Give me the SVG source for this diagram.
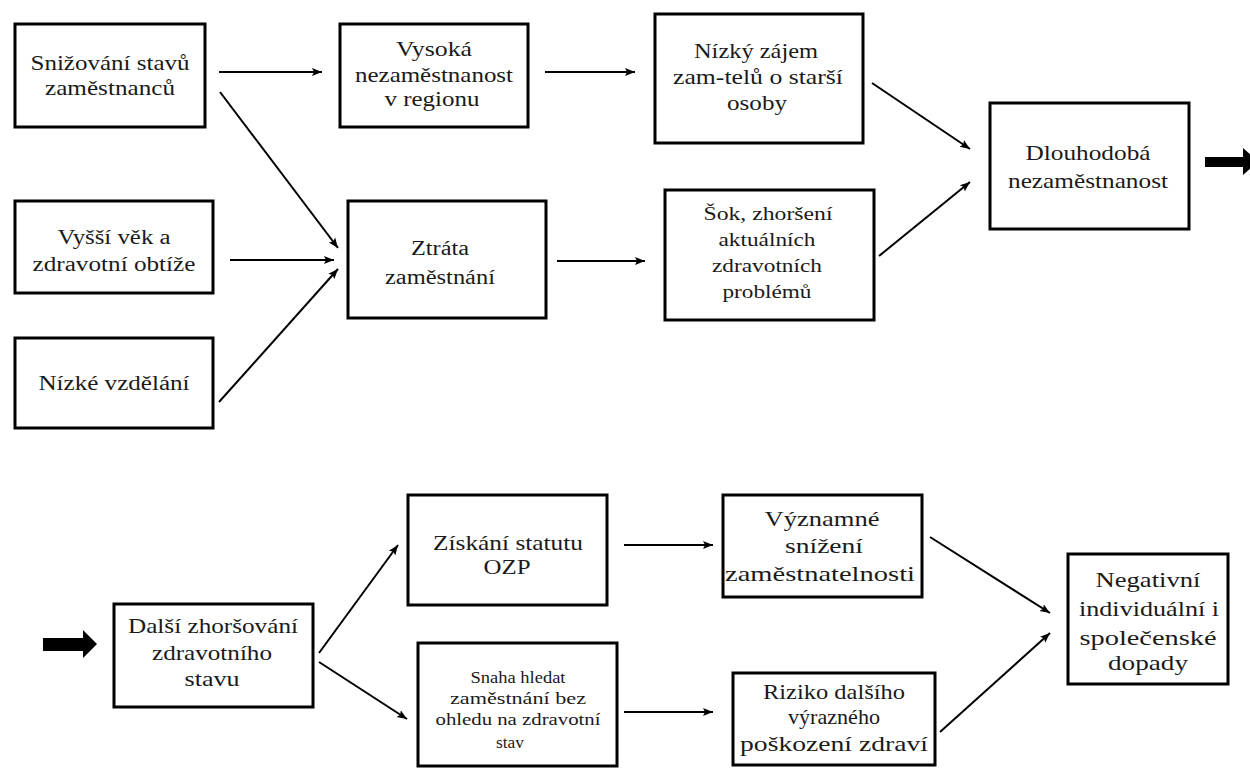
<svg xmlns="http://www.w3.org/2000/svg" width="1250" height="776" viewBox="0 0 1250 776">
  <style>
    .box { fill: #ffffff; stroke: #000000; stroke-width: 3; }
    .lbl { font-family: "Liberation Serif", "Times New Roman", serif; fill: #1a1a1a; text-anchor: middle; }
    .t21 { font-size: 21px; }
    .t20 { font-size: 20px; }
    .t18 { font-size: 18px; }
    .t16 { font-size: 16px; }
    .conn { stroke: #000000; stroke-width: 2; fill: none; marker-end: url(#head); }
    .big { fill: #000000; }
  </style>
  <defs>
    <marker id="head" markerUnits="userSpaceOnUse" markerWidth="12" markerHeight="10" refX="10" refY="5" orient="auto">
      <path d="M0,1 L10,5 L0,9 L2,5 Z" fill="#000000"/>
    </marker>
  </defs>

  <rect width="1250" height="776" fill="#ffffff"/>

  <!-- connectors -->
  <g id="connectors">
    <line class="conn" x1="219" y1="72" x2="322" y2="72"/>
    <line class="conn" x1="220" y1="92" x2="338" y2="248"/>
    <line class="conn" x1="545" y1="72" x2="635" y2="72"/>
    <line class="conn" x1="872" y1="83" x2="970" y2="149"/>
    <line class="conn" x1="879" y1="256" x2="970" y2="182"/>
    <line class="conn" x1="230" y1="260" x2="334" y2="260"/>
    <line class="conn" x1="219" y1="402" x2="338" y2="269"/>
    <line class="conn" x1="557" y1="261" x2="645" y2="261"/>
    <line class="conn" x1="319" y1="653" x2="398" y2="545"/>
    <line class="conn" x1="319" y1="662" x2="407" y2="719"/>
    <line class="conn" x1="624" y1="545" x2="713" y2="545"/>
    <line class="conn" x1="624" y1="712" x2="713" y2="712"/>
    <line class="conn" x1="930" y1="537" x2="1050" y2="613"/>
    <line class="conn" x1="940" y1="732" x2="1050" y2="633"/>
    <!-- block arrows linking the two rows -->
    <path class="big" d="M1205,157 L1243,157 L1243,148 L1258,161.5 L1243,175 L1243,167 L1205,167 Z"/>
    <path class="big" d="M43,638 L83,638 L83,630 L97,644 L83,658 L83,651 L43,651 Z"/>
  </g>

  <!-- upper chain -->
  <g id="snizovani">
    <rect class="box" x="15" y="24" width="190" height="103"/>
    <text class="lbl t21" x="110" y="70" textLength="159" lengthAdjust="spacingAndGlyphs">Snižování stavů</text>
    <text class="lbl t21" x="110" y="95" textLength="130" lengthAdjust="spacingAndGlyphs">zaměstnanců</text>
  </g>
  <g id="vysoka">
    <rect class="box" x="340" y="24" width="188" height="103"/>
    <text class="lbl t21" x="434" y="56" textLength="76" lengthAdjust="spacingAndGlyphs">Vysoká</text>
    <text class="lbl t21" x="434" y="82" textLength="158" lengthAdjust="spacingAndGlyphs">nezaměstnanost</text>
    <text class="lbl t21" x="432" y="106" textLength="95" lengthAdjust="spacingAndGlyphs">v regionu</text>
  </g>
  <g id="nizky-zajem">
    <rect class="box" x="655" y="14" width="208" height="129"/>
    <text class="lbl t21" x="756" y="58" textLength="124" lengthAdjust="spacingAndGlyphs">Nízký zájem</text>
    <text class="lbl t21" x="758" y="84" textLength="170" lengthAdjust="spacingAndGlyphs">zam-telů o starší</text>
    <text class="lbl t21" x="757" y="110" textLength="60" lengthAdjust="spacingAndGlyphs">osoby</text>
  </g>
  <g id="dlouhodoba">
    <rect class="box" x="990" y="103" width="199" height="126"/>
    <text class="lbl t21" x="1088" y="160" textLength="125" lengthAdjust="spacingAndGlyphs">Dlouhodobá</text>
    <text class="lbl t21" x="1088" y="188" textLength="160" lengthAdjust="spacingAndGlyphs">nezaměstnanost</text>
  </g>
  <g id="vyssi-vek">
    <rect class="box" x="15" y="201" width="198" height="92"/>
    <text class="lbl t20" x="114" y="244" textLength="113" lengthAdjust="spacingAndGlyphs">Vyšší věk a</text>
    <text class="lbl t20" x="114" y="271" textLength="163" lengthAdjust="spacingAndGlyphs">zdravotní obtíže</text>
  </g>
  <g id="nizke-vzdelani">
    <rect class="box" x="15" y="338" width="198" height="90"/>
    <text class="lbl t20" x="114" y="390" textLength="151" lengthAdjust="spacingAndGlyphs">Nízké vzdělání</text>
  </g>
  <g id="ztrata">
    <rect class="box" x="348" y="201" width="198" height="117"/>
    <text class="lbl t20" x="440" y="255" textLength="58" lengthAdjust="spacingAndGlyphs">Ztráta</text>
    <text class="lbl t20" x="440" y="284" textLength="110" lengthAdjust="spacingAndGlyphs">zaměstnání</text>
  </g>
  <g id="sok">
    <rect class="box" x="665" y="190" width="209" height="130"/>
    <text class="lbl t18" x="768" y="220" textLength="129" lengthAdjust="spacingAndGlyphs">Šok, zhoršení</text>
    <text class="lbl t18" x="767" y="246" textLength="97" lengthAdjust="spacingAndGlyphs">aktuálních</text>
    <text class="lbl t18" x="767" y="272" textLength="110" lengthAdjust="spacingAndGlyphs">zdravotních</text>
    <text class="lbl t18" x="767" y="298" textLength="89" lengthAdjust="spacingAndGlyphs">problémů</text>
  </g>

  <!-- lower chain -->
  <g id="dalsi-zhorsovani">
    <rect class="box" x="114" y="604" width="199" height="103"/>
    <text class="lbl t21" x="213" y="633" textLength="170" lengthAdjust="spacingAndGlyphs">Další zhoršování</text>
    <text class="lbl t21" x="212" y="660" textLength="120" lengthAdjust="spacingAndGlyphs">zdravotního</text>
    <text class="lbl t21" x="212" y="686" textLength="55" lengthAdjust="spacingAndGlyphs">stavu</text>
  </g>
  <g id="ziskani-ozp">
    <rect class="box" x="408" y="495" width="199" height="110"/>
    <text class="lbl t21" x="508" y="550" textLength="150" lengthAdjust="spacingAndGlyphs">Získání statutu</text>
    <text class="lbl t21" x="507" y="574" textLength="47" lengthAdjust="spacingAndGlyphs">OZP</text>
  </g>
  <g id="snaha-hledat">
    <rect class="box" x="418" y="643" width="199" height="123"/>
    <text class="lbl t16" x="518" y="683" textLength="95" lengthAdjust="spacingAndGlyphs">Snaha hledat</text>
    <text class="lbl t16" x="518" y="704" textLength="136" lengthAdjust="spacingAndGlyphs">zaměstnání bez</text>
    <text class="lbl t16" x="518" y="725" textLength="165" lengthAdjust="spacingAndGlyphs">ohledu na zdravotní</text>
    <text class="lbl t16" x="510" y="748" textLength="28" lengthAdjust="spacingAndGlyphs">stav</text>
  </g>
  <g id="vyznamne-snizeni">
    <rect class="box" x="723" y="495" width="199" height="102"/>
    <text class="lbl t21" x="822" y="526" textLength="115" lengthAdjust="spacingAndGlyphs">Významné</text>
    <text class="lbl t21" x="824" y="553" textLength="78" lengthAdjust="spacingAndGlyphs">snížení</text>
    <text class="lbl t21" x="820" y="581" textLength="190" lengthAdjust="spacingAndGlyphs">zaměstnatelnosti</text>
  </g>
  <g id="riziko">
    <rect class="box" x="733" y="673" width="202" height="92"/>
    <text class="lbl t21" x="834" y="699" textLength="142" lengthAdjust="spacingAndGlyphs">Riziko dalšího</text>
    <text class="lbl t21" x="834" y="724" textLength="92" lengthAdjust="spacingAndGlyphs">výrazného</text>
    <text class="lbl t21" x="834" y="751" textLength="188" lengthAdjust="spacingAndGlyphs">poškození zdraví</text>
  </g>
  <g id="negativni-dopady">
    <rect class="box" x="1068" y="554" width="160" height="130"/>
    <text class="lbl t21" x="1148" y="587" textLength="105" lengthAdjust="spacingAndGlyphs">Negativní</text>
    <text class="lbl t21" x="1149" y="616" textLength="140" lengthAdjust="spacingAndGlyphs">individuální i</text>
    <text class="lbl t21" x="1148" y="645" textLength="137" lengthAdjust="spacingAndGlyphs">společenské</text>
    <text class="lbl t21" x="1148" y="670" textLength="80" lengthAdjust="spacingAndGlyphs">dopady</text>
  </g>
</svg>
